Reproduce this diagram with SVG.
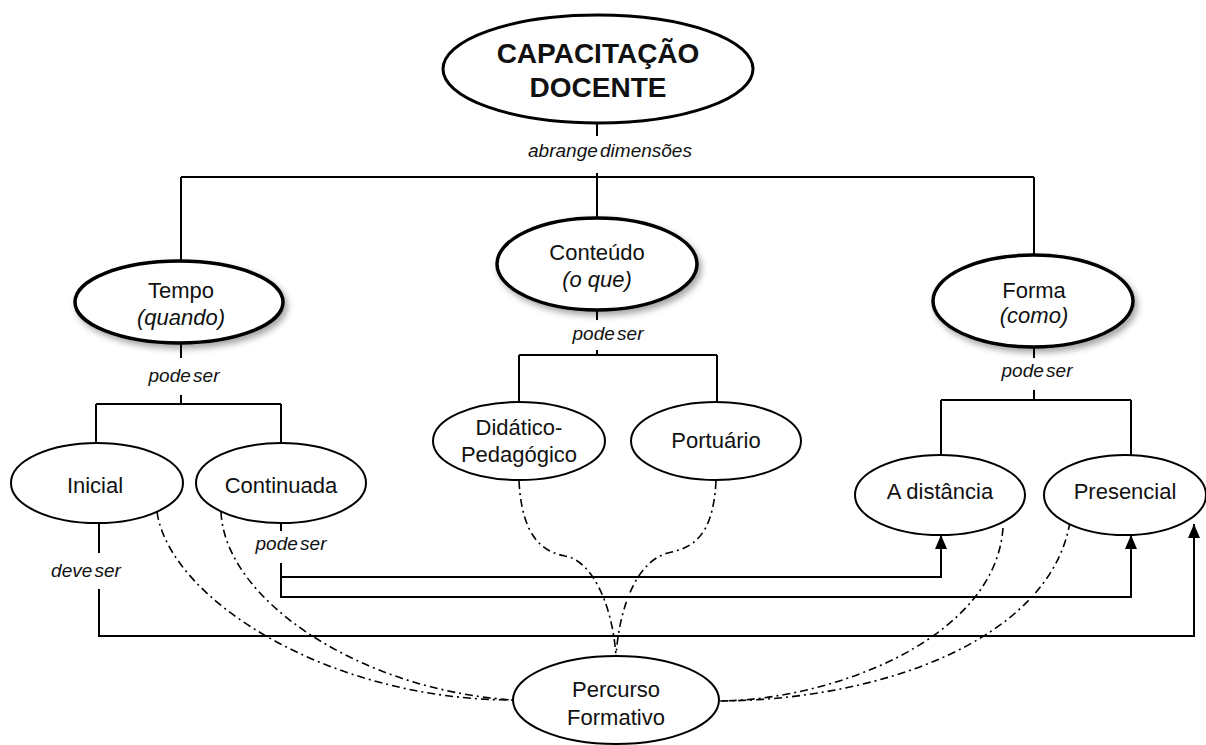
<svg xmlns="http://www.w3.org/2000/svg" width="1206" height="745" viewBox="0 0 1206 745">
<style>
.thin{fill:#fff;stroke:#000;stroke-width:2}
.thick{fill:#fff;stroke:#000;stroke-width:3.5;filter:url(#sh)}
.t{font-family:"Liberation Sans",Arial,sans-serif;font-size:22px;fill:#111;text-anchor:middle}
.i{font-style:italic}
.b{font-weight:bold;font-size:28px}
.lab{font-family:"Liberation Sans",Arial,sans-serif;font-size:19px;font-style:italic;fill:#111;text-anchor:middle;word-spacing:-3px}
.ln{fill:none;stroke:#000;stroke-width:2}
.dd{fill:none;stroke:#000;stroke-width:1.6;stroke-dasharray:8 4 2 4}
</style>
<defs>
<filter id="sh" x="-20%" y="-20%" width="140%" height="150%">
<feDropShadow dx="3" dy="4" stdDeviation="3" flood-color="#000" flood-opacity="0.35"/>
</filter>
<marker id="ar" viewBox="0 0 14 12" refX="14" refY="6" markerWidth="14" markerHeight="12" markerUnits="userSpaceOnUse" orient="auto">
<path d="M0,0 L14,6 L0,12 Z" fill="#000"/>
</marker>
</defs>

<g id="connectors">
<path class="ln" d="M597,123 V136 M597,173 V177 M181,177 H1034 M181,177 V262 M597,177 V218 M1034,177 V255"/>
<path class="ln" d="M181,343 V358 M181,395 V404 M96,404 H281 M96,404 V443 M281,404 V443"/>
<path class="ln" d="M597,310 V320 M597,350 V355 M519,355 H717 M519,355 V402 M717,355 V402"/>
<path class="ln" d="M1034,347 V358 M1034,390 V400 M941,400 H1131 M941,400 V455 M1131,400 V455"/>
<path class="ln" d="M99,522 V553 M99,589 V636 H1194 V524" marker-end="url(#ar)"/>
<path class="ln" d="M281,522 V531 M281,563 V597 H1131 V535" marker-end="url(#ar)"/>
<path class="ln" d="M281,577 H941 V535" marker-end="url(#ar)"/>
<path class="dd" d="M157,512 C170,600 330,700 513,700"/>
<path class="dd" d="M221,512 C225,600 360,690 513,700"/>
<path class="dd" d="M519,481 C522,540 545,552 565,556 C590,560 612,600 616,656"/>
<path class="dd" d="M716,481 C713,540 690,548 668,553 C640,560 620,600 616,656"/>
<path class="dd" d="M1003,528 C995,640 830,700 720,701"/>
<path class="dd" d="M1070,522 C1050,640 880,700 720,701"/>
<text class="lab" x="610" y="157">abrange dimensões</text>
<text class="lab" x="184" y="382">pode ser</text>
<text class="lab" x="608" y="340">pode ser</text>
<text class="lab" x="1037" y="377">pode ser</text>
<text class="lab" x="86" y="577">deve ser</text>
<text class="lab" x="291" y="550">pode ser</text>
</g>

<g id="capacitacao">
<ellipse class="thin" cx="598" cy="69" rx="155" ry="54" style="stroke-width:3"/>
<text class="t b" x="598" y="63">CAPACITAÇÃO</text>
<text class="t b" x="598" y="97">DOCENTE</text>
</g>
<g id="tempo">
<ellipse class="thick" cx="179" cy="302" rx="104" ry="41"/>
<text class="t" x="181" y="298">Tempo</text>
<text class="t i" x="181" y="325">(quando)</text>
</g>
<g id="conteudo">
<ellipse class="thick" cx="597" cy="264" rx="100" ry="46"/>
<text class="t" x="597" y="260">Conteúdo</text>
<text class="t i" x="597" y="287">(o que)</text>
</g>
<g id="forma">
<ellipse class="thick" cx="1033" cy="301" rx="100" ry="46"/>
<text class="t" x="1034" y="298">Forma</text>
<text class="t i" x="1034" y="323">(como)</text>
</g>
<g id="inicial">
<ellipse class="thin" cx="97" cy="483" rx="86" ry="40"/>
<text class="t" x="95" y="493">Inicial</text>
</g>
<g id="continuada">
<ellipse class="thin" cx="281" cy="483" rx="85" ry="40"/>
<text class="t" x="281" y="493">Continuada</text>
</g>
<g id="didatico">
<ellipse class="thin" cx="519" cy="441" rx="86" ry="39"/>
<text class="t" x="519" y="435">Didático-</text>
<text class="t" x="519" y="462">Pedagógico</text>
</g>
<g id="portuario">
<ellipse class="thin" cx="716" cy="441" rx="85" ry="39"/>
<text class="t" x="716" y="448">Portuário</text>
</g>
<g id="adistancia">
<ellipse class="thin" cx="940" cy="495" rx="85" ry="40"/>
<text class="t" x="940" y="499">A distância</text>
</g>
<g id="presencial">
<ellipse class="thin" cx="1125" cy="495" rx="81" ry="40"/>
<text class="t" x="1125" y="499">Presencial</text>
</g>
<g id="percurso">
<ellipse class="thin" cx="616" cy="700" rx="103" ry="44"/>
<text class="t" x="616" y="697">Percurso</text>
<text class="t" x="616" y="725">Formativo</text>
</g>
</svg>
